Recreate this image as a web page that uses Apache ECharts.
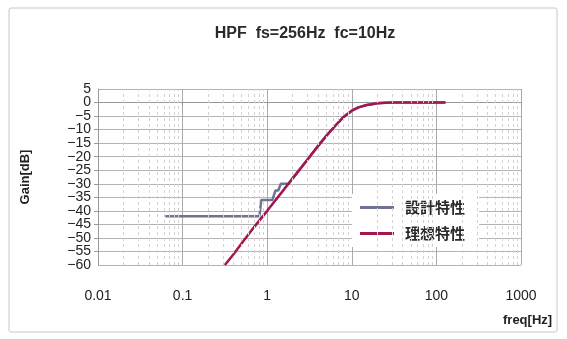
<!DOCTYPE html>
<html>
<head>
<meta charset="utf-8">
<script src="https://cdn.jsdelivr.net/npm/echarts@6/dist/echarts.min.js"></script>
<style>
html,body{margin:0;padding:0;background:#fff;}
#main{width:567px;height:339px;}
</style>
</head>
<body>
<div id="main"></div>
<script>
// 設計特性 (0.0625Hz刻み)
var designData = [
	[0.0625, -42], [0.81, -42], [0.85, -36], [1.15, -36], [1.25, -32.5],
	[1.35, -32.5], [1.45, -30], [1.8, -30], [2, -28], [3, -21], [4, -16],
	[5, -12.3], [6, -9.5], [7, -7.2], [8, -5.3], [10, -3], [12, -1.8],
	[15, -0.9], [17, -0.7], [20, -0.3], [25, -0.1], [30, 0], [50, 0], [128, 0]
];
// 理想特性
var idealData = [
	[0.316, -60], [0.4, -56], [0.5, -52], [0.7, -46], [1, -40], [1.5, -33],
	[2, -28], [3, -21], [4, -16], [5, -12.3], [6, -9.5], [7, -7.2], [8, -5.3],
	[10, -3], [12, -1.8], [15, -0.9], [17, -0.6], [20, -0.3], [25, -0.1],
	[30, 0], [50, 0], [128, 0]
];
var seriesNames = ['設計特性', '理想特性'];
var xTickLabels = ['0.01', '0.1', '1', '10', '100', '1000'];
var yMin = -60, yMax = 5;
var minorFreqs = [];
for (var d = 0.01; d < 1000; d *= 10) {
	for (var k = 2; k <= 9; k++) {
		minorFreqs.push({xAxis: +(d * k).toPrecision(3)});
	}
}

function dbLabel(v) {
	return v < 0 ? '\u2212' + (-v) : '' + v;
}
var yLabelStyle = {fontFamily: 'Liberation Sans', fontSize: 14, color: '#222'};

var chart = echarts.init(document.getElementById('main'));
var option = {
	backgroundColor: '#fff',
	animation: false,
	title: {
		text: 'HPF  fs=256Hz  fc=10Hz',
		left: 300,
		textAlign: 'center',
		top: 21,
		textStyle: {fontFamily: 'Liberation Sans', fontSize: 16, fontWeight: 'bold', color: '#2a2a2a'}
	},
	graphic: [{
		type: 'rect',
		shape: {x: 9, y: 8, width: 548, height: 324, r: 2},
		style: {fill: 'none', stroke: '#c8c8c8', lineWidth: 1},
		z: -1
	}, {
		type: 'text',
		left: 503,
		top: 314,
		style: {text: 'freq[Hz]', font: 'bold 13px "Liberation Sans"', fill: '#222'}
	}],
	legend: {
		orient: 'vertical',
		left: 352,
		top: 194,
		padding: [6, 14, 6, 8],
		backgroundColor: '#fff',
		itemGap: 11,
		itemWidth: 34,
		itemHeight: 3,
		icon: 'rect',
		data: seriesNames,
		textStyle: {fontFamily: 'Noto Sans CJK JP', fontSize: 15, fontWeight: 'bold', color: '#2a2a2a', padding: [0, 0, 0, 6]}
	},
	grid: {left: 98, right: 46, top: 89, bottom: 74},
	xAxis: {
		type: 'log',
		logBase: 10,
		min: 0.01,
		max: 1000,
		axisLine: {lineStyle: {color: '#999'}},
		axisTick: {show: true, length: 4, lineStyle: {color: '#999'}},
		axisLabel: {
			margin: 24,
			fontFamily: 'Liberation Sans', fontSize: 14, color: '#222',
			formatter: function (v) {
				var i = Math.round(Math.log10(v)) + 2;
				return xTickLabels[i] !== undefined ? xTickLabels[i] : '';
			}
		},
		splitLine: {show: true, lineStyle: {color: '#aaa', width: 1}}
	},
	yAxis: [{
		type: 'value',
		min: yMin,
		max: yMax,
		interval: 5,
		name: 'Gain[dB]',
		nameLocation: 'middle',
		nameGap: 66,
		nameTextStyle: {fontFamily: 'Liberation Sans', fontSize: 13, fontWeight: 'bold', color: '#222'},
		axisLine: {show: true, lineStyle: {color: '#999'}},
		axisTick: {show: true, length: 4, lineStyle: {color: '#999'}},
		axisLabel: Object.assign({
			margin: 7,
			showMinLabel: false,
			showMaxLabel: false,
			formatter: dbLabel
		}, yLabelStyle),
		splitLine: {show: true, lineStyle: {color: '#b4b4b4', width: 1}}
	}, {
		// 両端 (5 と -60) のラベル用
		type: 'value',
		position: 'left',
		min: yMin,
		max: yMax,
		interval: yMax - yMin,
		axisLine: {show: false},
		axisTick: {show: false},
		splitLine: {show: false},
		axisLabel: Object.assign({margin: 7, formatter: dbLabel}, yLabelStyle)
	}],
	series: [
		{
			name: 'minor',
			type: 'line',
			data: [],
			silent: true,
			z: 1,
			markLine: {
				silent: true,
				symbol: 'none',
				label: {show: false},
				lineStyle: {color: '#d2d2d2', type: [3, 3], width: 1},
				data: minorFreqs
			}
		},
		{
			name: seriesNames[0],
			type: 'line',
			data: designData,
			showSymbol: false,
			color: '#6e7391',
			lineStyle: {width: 2.5, color: '#6e7391'},
			z: 3
		},
		{
			name: seriesNames[1],
			type: 'line',
			data: idealData,
			showSymbol: false,
			color: '#a3164f',
			lineStyle: {width: 2.5, color: '#a3164f'},
			z: 4
		}
	]
};
chart.setOption(option);
window.addEventListener('resize', function () {
	chart.resize();
});
</script>
</body>
</html>
